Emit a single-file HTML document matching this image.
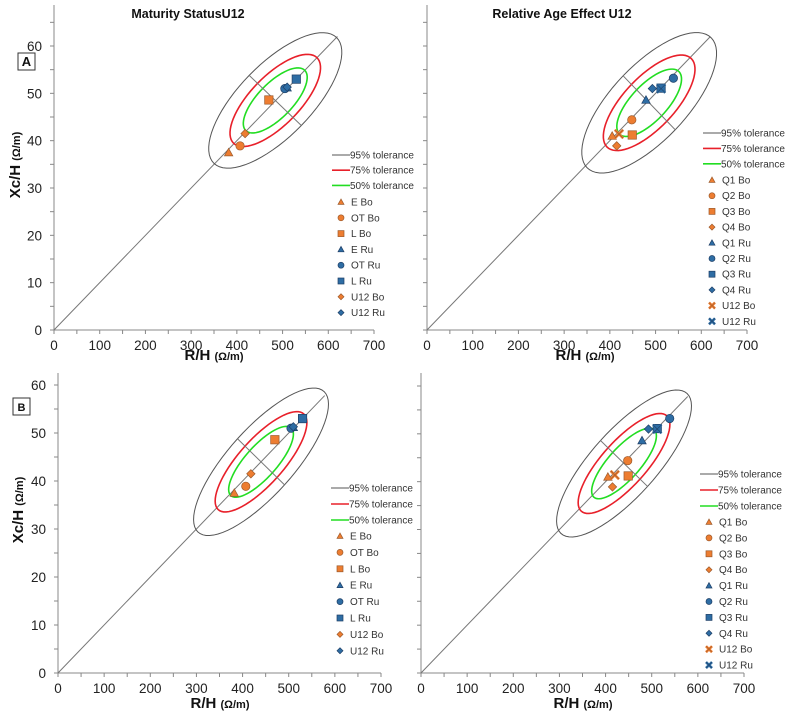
<!DOCTYPE html>
<html><head><meta charset="utf-8">
<style>
body{margin:0;background:#fff;}
svg{display:block;font-family:"Liberation Sans",Arial,sans-serif;}
</style></head>
<body>
<svg id="fig" width="797" height="720" viewBox="0 0 797 720" xmlns="http://www.w3.org/2000/svg"></svg>
<script>
// ---- data ----
const xTicks = [0,100,200,300,400,500,600,700];
const yTicks = [0,10,20,30,40,50,60];
const tolLabels = ["95% tolerance","75% tolerance","50% tolerance"];
const tolScale = [1, 0.68, 0.48];
const tolColors = ["#555","#e8202a","#22dd22"];

const matNames = ["E Bo","OT Bo","L Bo","E Ru","OT Ru","L Ru","U12 Bo","U12 Ru"];
const matShapes = ["tri","circ","sq","tri","circ","sq","dia","dia"];
const matGroup = ["Bo","Bo","Bo","Ru","Ru","Ru","Bo","Ru"];
const matR  = [382,407,470,510,505,530,418,510];
const matXc = [37.5,38.9,48.6,51.2,51.0,53.0,41.5,51.3];

const raeNames = ["Q1 Bo","Q2 Bo","Q3 Bo","Q4 Bo","Q1 Ru","Q2 Ru","Q3 Ru","Q4 Ru","U12 Bo","U12 Ru"];
const raeShapes = ["tri","circ","sq","dia","tri","circ","sq","dia","x","x"];
const raeGroup = ["Bo","Bo","Bo","Bo","Ru","Ru","Ru","Ru","Bo","Ru"];
const raeR  = [405,448,449,415,479,539,512,493,420,512];
const raeXc = [41.0,44.4,41.2,38.9,48.6,53.2,51.1,51.0,41.4,51.0];

// ellipse: center R, center Xc, major half (dR,dXc), minor half (dR,dXc)
const ellA1 = [484,48.5,134,13.3,57,-5.3];
const ellA2 = [486,48.0,136,13.7,57,-5.7];
const ellB1 = [440,44.0,137,14.6,51,-4.8];
const ellB2 = [440,43.8,137,14.6,51,-4.8];

const NS = "http://www.w3.org/2000/svg";
const svg = document.getElementById("fig");
function mk(tag, attrs, parent, text){
  const e = document.createElementNS(NS, tag);
  for (const k in attrs) e.setAttribute(k, attrs[k]);
  if (text !== undefined) e.textContent = text;
  (parent||svg).appendChild(e);
  return e;
}
const fillC = {Bo:"#ed7d31", Ru:"#2e6da4"};
const strokeC = {Bo:"#9c5a2c", Ru:"#1f3f66"};

function marker(g, shape, grp, px, py, s){
  const f = fillC[grp], st = strokeC[grp];
  let e;
  if (shape==="tri") e = mk("polygon",{points:`${px},${py-s} ${px-s},${py+s*0.8} ${px+s},${py+s*0.8}`,fill:f,stroke:st,"stroke-width":0.7},g);
  else if (shape==="circ") e = mk("circle",{cx:px,cy:py,r:s,fill:f,stroke:st,"stroke-width":0.7},g);
  else if (shape==="sq") e = mk("rect",{x:px-s,y:py-s,width:2*s,height:2*s,fill:f,stroke:st,"stroke-width":0.7},g);
  else if (shape==="dia") e = mk("polygon",{points:`${px},${py-s} ${px+s},${py} ${px},${py+s} ${px-s},${py}`,fill:f,stroke:st,"stroke-width":0.7},g);
  else {
    e = mk("g",{},g);
    mk("line",{x1:px-s,y1:py-s,x2:px+s,y2:py+s,stroke:f,"stroke-width":2.6},e);
    mk("line",{x1:px-s,y1:py+s,x2:px+s,y2:py-s,stroke:f,"stroke-width":2.6},e);
    mk("line",{x1:px-s,y1:py-s,x2:px+s,y2:py+s,stroke:st,"stroke-width":0.6},e);
    mk("line",{x1:px-s,y1:py+s,x2:px+s,y2:py-s,stroke:st,"stroke-width":0.6},e);
  }
  return e;
}

function panel(cfg){
  const g = mk("g",{});
  
  
  const X = v => cfg.x0 + v*(cfg.x1-cfg.x0)/700;
  const Y = v => cfg.y0 - v*(cfg.y0-cfg.y60)/60;
  const ax = mk("g",{},g);
  
  
  mk("line",{x1:X(0),y1:cfg.yTop,x2:X(0),y2:Y(0),stroke:"#888","stroke-width":1},ax);
  mk("line",{x1:X(0),y1:Y(0),x2:X(700),y2:Y(0),stroke:"#888","stroke-width":1},ax);
  for (let v=0; v<=700; v+=50){
    mk("line",{x1:X(v),y1:Y(0),x2:X(v),y2:Y(0)+4,stroke:"#888","stroke-width":1},ax);
  }
  for (let v=0; v<=65; v+=5){
    if (Y(v) < cfg.yTop-1) continue;
    mk("line",{x1:X(0)-4,y1:Y(v),x2:X(0),y2:Y(v),stroke:"#888","stroke-width":1},ax);
  }
  xTicks.forEach(v=>{
    const t = mk("text",{x:X(v),y:Y(0)+20,"text-anchor":"middle","font-size":13.5,fill:"#222"},ax,String(v));
    
    
  });
  if (cfg.yLabels){
    yTicks.forEach(v=>{
      const t = mk("text",{x:X(0)-12,y:Y(v)+5,"text-anchor":"end","font-size":13.5,fill:"#222"},ax,String(v));
      
      
    });
    const yt = mk("text",{transform:`translate(${cfg.yTitleX},${cfg.yTitleY}) rotate(-90)`,"text-anchor":"middle","font-size":15,"font-weight":"bold",fill:"#111"},ax);
    
    
    mk("tspan",{},yt,"Xc/H ");
    mk("tspan",{"font-size":11},yt,"(Ω/m)");
  }
  const xt = mk("text",{x:cfg.xTitleX,y:cfg.xTitleY,"text-anchor":"middle","font-size":15,"font-weight":"bold",fill:"#111"},ax);
  
  
  mk("tspan",{},xt,"R/H ");
  mk("tspan",{"font-size":11},xt,"(Ω/m)");
  if (cfg.title){
    const tt = mk("text",{x:cfg.titleX,y:18,"text-anchor":"middle","font-size":12.5,"font-weight":"bold",fill:"#111"},g,cfg.title);
    
    
  }
  if (cfg.box){
    const bx = mk("g",{},g);
    
    
    mk("rect",{x:cfg.box[0],y:cfg.box[1],width:cfg.box[2],height:cfg.box[2],fill:"#fff",stroke:"#333","stroke-width":1},bx);
    mk("text",{x:cfg.box[0]+cfg.box[2]/2,y:cfg.box[1]+cfg.box[2]/2+4.5,"text-anchor":"middle","font-size":cfg.box[3],"font-weight":"bold",fill:"#111"},bx,cfg.box[4]);
  }
  const rl = mk("line",{x1:X(0),y1:Y(0),x2:X(cfg.lineEnd),y2:Y(cfg.lineEnd*0.1),stroke:"#777","stroke-width":1},g);
  
  
  const e = cfg.ell;
  tolScale.forEach((s,i)=>{
    let d="";
    for (let k=0;k<=72;k++){
      const t = k/72*2*Math.PI;
      const r = e[0] + s*(e[2]*Math.cos(t) + e[4]*Math.sin(t));
      const xc = e[1] + s*(e[3]*Math.cos(t) + e[5]*Math.sin(t));
      d += (k?"L":"M") + X(r).toFixed(2)+","+Y(xc).toFixed(2);
    }
    const p = mk("path",{d:d+"Z",fill:"none",stroke:tolColors[i],"stroke-width":i?1.6:1},g);
    
    
  });
  const cl = mk("line",{x1:X(e[0]-e[4]),y1:Y(e[1]-e[5]),x2:X(e[0]+e[4]),y2:Y(e[1]+e[5]),stroke:"#777","stroke-width":1},g);
  
  
  cfg.R.forEach((r,i)=>{
    const m = marker(g, cfg.shapes[i], cfg.group[i], X(r), Y(cfg.Xc[i]), 4.2);
    
    
  });
  const lg = mk("g",{},g);
  
  
  const L = cfg.leg;
  tolLabels.forEach((t,i)=>{
    const y = L[1]+i*L[2];
    const en = mk("g",{},lg);
    
    
    mk("line",{x1:L[0],y1:y,x2:L[0]+18,y2:y,stroke:tolColors[i],"stroke-width":i?1.6:1},en);
    mk("text",{x:L[0]+18,y:y+3.5,"font-size":10,fill:"#333"},en,t);
  });
  cfg.names.forEach((n,i)=>{
    const y = L[3]+i*L[4];
    const en = mk("g",{},lg);
    
    
    marker(en, cfg.shapes[i], cfg.group[i], L[0]+9, y, 3);
    mk("text",{x:L[0]+19,y:y+3.5,"font-size":10,fill:"#333"},en,n);
  });
}

panel({name:"chart-maturity-a",x0:54,x1:374,y0:330,y60:46,yTop:5,yLabels:true,
  yTitleX:20,yTitleY:165,xTitleX:214,xTitleY:360,title:"Maturity StatusU12",titleX:188,
  box:[18,53,17,13,"A"],lineEnd:620,ell:ellA1,R:matR,Xc:matXc,names:matNames,shapes:matShapes,group:matGroup,
  leg:[332,155,15.2,202,15.8]});
panel({name:"chart-rae-a",x0:427,x1:747,y0:330,y60:46,yTop:5,yLabels:false,
  xTitleX:585,xTitleY:360,title:"Relative Age Effect U12",titleX:562,
  lineEnd:620,ell:ellA2,R:raeR,Xc:raeXc,names:raeNames,shapes:raeShapes,group:raeGroup,
  leg:[703,133,15.4,180,15.7]});
panel({name:"chart-maturity-b",x0:58,x1:381,y0:673,y60:385,yTop:373,yLabels:true,
  yTitleX:23,yTitleY:510,xTitleX:220,xTitleY:708,
  box:[13,398,17,11,"B"],lineEnd:578,ell:ellB1,R:matR,Xc:matXc,names:matNames,shapes:matShapes,group:matGroup,
  leg:[331,488,16,536,16.4]});
panel({name:"chart-rae-b",x0:421,x1:744,y0:673,y60:386,yTop:373,yLabels:false,
  xTitleX:583,xTitleY:708,
  lineEnd:578,ell:ellB2,R:raeR,Xc:raeXc,names:raeNames,shapes:raeShapes,group:raeGroup,
  leg:[700,474,16,522,15.9]});
</script>
</body></html>
